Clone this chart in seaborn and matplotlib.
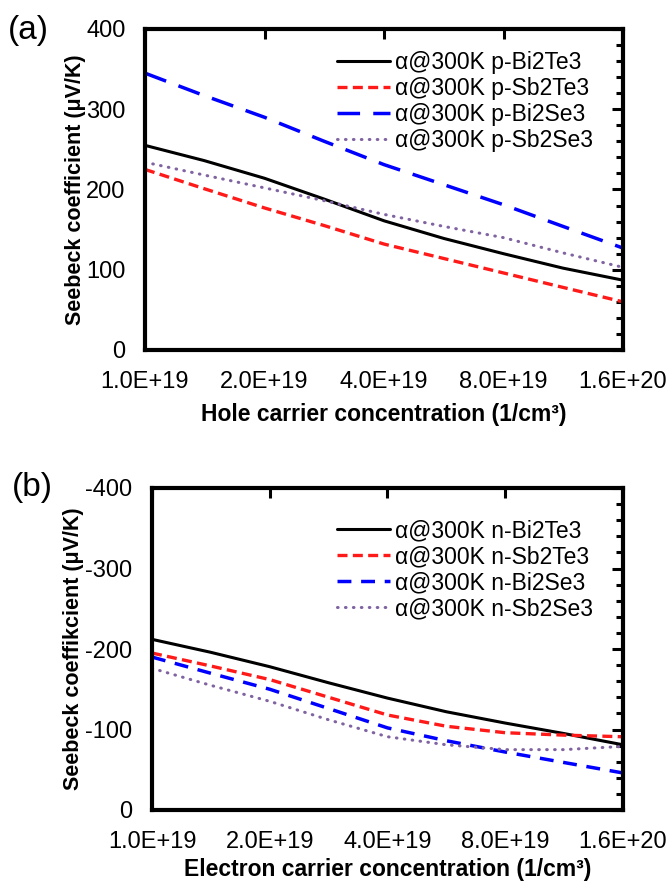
import numpy as np
import pandas as pd
import matplotlib
matplotlib.use('Agg')
import matplotlib.pyplot as plt
import seaborn as sns
from matplotlib.ticker import MultipleLocator

# carrier concentration (1/cm3), read at half-octave steps
conc = [1.0e19, 1.41e19, 2.0e19, 2.83e19, 4.0e19, 5.66e19, 8.0e19, 1.13e20, 1.6e20]

# (a) p-type Seebeck coefficient (uV/K)
p_bi2te3 = [255, 236, 214, 188, 161, 139, 120, 102, 87]
p_sb2te3 = [225, 201, 177, 155, 132, 114, 96, 78, 60]
p_bi2se3 = [345, 317, 290, 260, 231, 206, 181, 154, 127]
p_sb2se3 = [234, 218, 202, 186, 169, 154, 140, 121, 103]

# (b) n-type Seebeck coefficient (uV/K)
n_bi2te3 = [-212, -196, -178, -158, -139, -122, -108, -95, -81]
n_sb2te3 = [-195, -179, -162, -140, -118, -104, -96, -93, -91]
n_bi2se3 = [-190, -170, -150, -126, -102, -86, -72, -59, -46]
n_sb2se3 = [-176, -155, -135, -112, -91, -81, -75, -75, -79]

xticks = [1.0e19, 2.0e19, 4.0e19, 8.0e19, 1.6e20]
xticklabels = ['1.0E+19', '2.0E+19', '4.0E+19', '8.0E+19', '1.6E+20']

sns.set_theme(style='white')
plt.rcParams['font.family'] = ['Liberation Sans', 'DejaVu Sans']
plt.rcParams['axes.unicode_minus'] = False
plt.rcParams['text.color'] = 'black'
plt.rcParams['axes.labelcolor'] = 'black'
plt.rcParams['xtick.color'] = 'black'
plt.rcParams['ytick.color'] = 'black'

fig = plt.figure(figsize=(6.68, 8.84), dpi=100)
ax_a = fig.add_axes([145 / 668, 1 - 350 / 884, 478 / 668, 321 / 884])
ax_b = fig.add_axes([152 / 668, 1 - 810 / 884, 471 / 668, 322 / 884])

# name, values, colour, linewidth, dash pattern (None = solid)
series_a = [
    ('α@300K p-Bi2Te3', p_bi2te3, 'black', 2.2, None),
    ('α@300K p-Sb2Te3', p_sb2te3, '#ff1a1a', 2.4, (3.0, 1.6)),
    ('α@300K p-Bi2Se3', p_bi2se3, '#0000ff', 2.5, (6.5, 3.8)),
    ('α@300K p-Sb2Se3', p_sb2se3, '#8064a2', 2.2, (0.2, 2.4)),
]
series_b = [
    ('α@300K n-Bi2Te3', n_bi2te3, 'black', 2.2, None),
    ('α@300K n-Sb2Te3', n_sb2te3, '#ff1a1a', 2.4, (3.0, 1.6)),
    ('α@300K n-Bi2Se3', n_bi2se3, '#0000ff', 2.5, (4.0, 2.8)),
    ('α@300K n-Sb2Se3', n_sb2se3, '#8064a2', 2.2, (0.2, 2.4)),
]


def draw_panel(ax, series):
    for name, vals, col, lw, dash in series:
        df = pd.DataFrame({'x': conc, 'y': vals})
        sns.lineplot(data=df, x='x', y='y', ax=ax, color=col, linewidth=lw, label=name)
        line = ax.lines[-1]
        if dash is not None:
            line.set_dashes(dash)
            if dash[0] < 1.5:
                line.set_dash_capstyle('round')
    ax.set_xscale('log', base=2)
    ax.set_xlim(1.0e19, 1.6e20)
    ax.set_xticks(xticks)
    ax.set_xticklabels(xticklabels)
    ax.xaxis.set_minor_locator(plt.NullLocator())
    ax.yaxis.set_major_locator(MultipleLocator(100))
    ax.yaxis.set_minor_locator(MultipleLocator(20))
    for s in ax.spines.values():
        s.set_linewidth(3)
        s.set_color('black')
    ax.tick_params(which='both', direction='in', top=True, right=True,
                   color='black', labelcolor='black', labelsize=17, width=2.2)
    ax.tick_params(axis='x', which='major', length=7, pad=15)
    ax.tick_params(axis='y', which='major', length=8, pad=14)
    ax.tick_params(axis='y', which='minor', length=5)


legend_kw = dict(loc='upper right', frameon=False, fontsize=16.5, handlelength=2.3,
                 handletextpad=0.2, labelspacing=0.13, borderaxespad=0.2)

draw_panel(ax_a, series_a)
ax_a.set_ylim(0, 400)
ax_a.set_xlabel('Hole carrier concentration (1/cm³)', fontsize=16.5, fontweight='bold', labelpad=7)
ax_a.set_ylabel('Seebeck coefficient (μV/K)', fontsize=15.5, fontweight='bold', labelpad=0)
ax_a.legend(bbox_to_anchor=(0.965, 0.975), **legend_kw)

draw_panel(ax_b, series_b)
ax_b.set_ylim(0, -400)
ax_b.set_xlabel('Electron carrier concentration (1/cm³)', fontsize=16.5, fontweight='bold', labelpad=4)
ax_b.set_ylabel('Seebeck coeffikcient (μV/K)', fontsize=15.5, fontweight='bold', labelpad=1)
ax_b.legend(bbox_to_anchor=(0.965, 0.945), **legend_kw)

fig.text(8 / 668, 1 - 30 / 884, '(a)', fontsize=24, va='center', ha='left')
fig.text(12 / 668, 1 - 487 / 884, '(b)', fontsize=24, va='center', ha='left')

fig.savefig('out.png', dpi=100)
